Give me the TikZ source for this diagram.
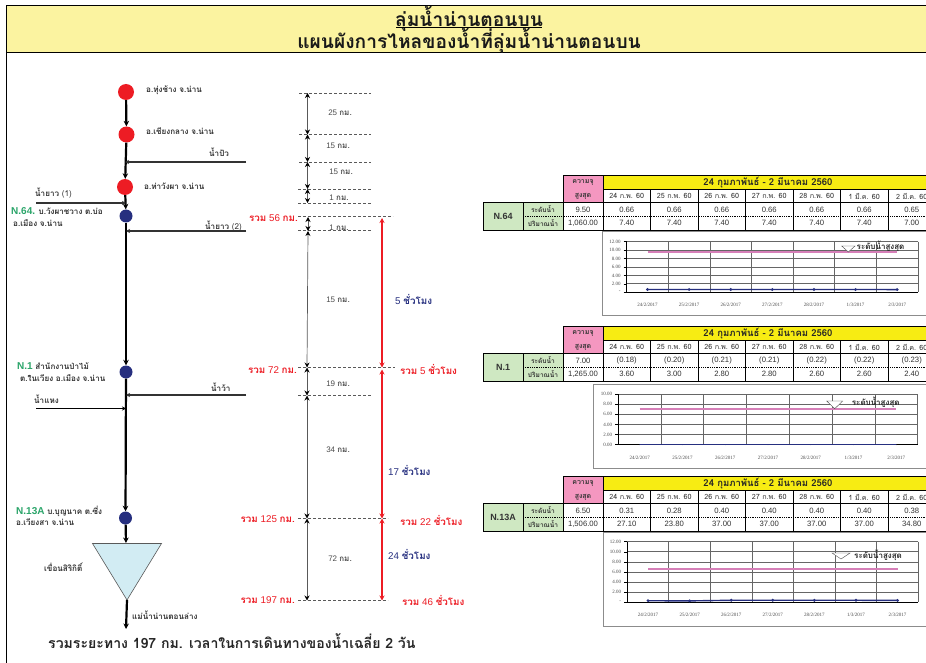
\documentclass[tikz,border=0pt]{standalone}
\usepackage{fontspec}
\usetikzlibrary{arrows.meta}
\setmainfont{Liberation Sans}
\newfontfamily\thaiR[Script=Thai]{Loma}
\newfontfamily\thaiB[Script=Thai]{Loma Bold}
\newfontfamily\tickfont{Liberation Serif}
\newcommand{\TB}[1]{{\thaiB #1}}
\newcommand{\TR}[1]{{\thaiR #1}}
\definecolor{band}{HTML}{FBF3A0}
\definecolor{hdryellow}{HTML}{F7EC13}
\definecolor{hdrpink}{HTML}{F497C0}
\definecolor{stgreen}{HTML}{CFE8C2}
\definecolor{labgreen}{HTML}{2BA56A}
\definecolor{rivred}{HTML}{ED1C24}
\definecolor{rivblue}{HTML}{262F7F}
\definecolor{dampale}{HTML}{D2ECF3}
\definecolor{linepink}{HTML}{D67FB8}
\tikzset{
  riv/.style={line width=2.2pt,-{Stealth[length=5.5pt,width=5.5pt]}},
  trib/.style={line width=1.3pt,draw=black!80,-{Stealth[length=4pt,width=4pt]}},
  dimline/.style={line width=.7pt,draw=black!65,{Stealth[length=5pt,width=5pt,black]}-{Stealth[length=5pt,width=5pt,black]}},
  redline/.style={line width=1.1pt,draw=rivred,{Stealth[length=5pt,width=5pt]}-{Stealth[length=5pt,width=5pt]}},
  level/.style={dash pattern=on 3pt off 2pt,line width=.4pt,draw=black!65},
  redball/.style={circle,fill=rivred,inner sep=0pt,minimum size=16pt},
  blueball/.style={circle,fill=rivblue,inner sep=0pt,minimum size=13pt},
  lab/.style={anchor=west,inner sep=0pt,font=\thaiB\fontsize{8.1}{9}\selectfont,text=black!80},
  km/.style={anchor=center,inner sep=0pt,font=\fontsize{8}{9}\selectfont,text=black!70},
  total/.style={inner sep=0pt,font=\fontsize{9.8}{11}\selectfont,text=rivred},
  hours/.style={anchor=west,inner sep=0pt,font=\fontsize{9.8}{11}\selectfont,text=rivblue},
  cell/.style={inner sep=0pt,font=\fontsize{7.7}{9}\selectfont,text=black!80},
  tick/.style={inner sep=0pt,font=\tickfont\fontsize{5}{6}\selectfont,text=black!70},
}
\newcommand{\rivtable}[7]{%
 \begin{scope}[shift={(0,#2)}]
  \fill[hdrpink] (563,0) rectangle (603,27);
  \fill[hdryellow] (603,0) rectangle (940,13.4);
  \fill[stgreen] (483,27) rectangle (563,54.3);
  \fill[stgreen!30] (483,54.3) rectangle (563,55.5);
  \draw[line width=.8pt] (563,0) -- (940,0) (603,13.4) -- (940,13.4) (483,27) -- (940,27) (483,54.3) -- (940,54.3);
  \draw[line width=.8pt] (483,27) -- (483,54.3) (523,27) -- (523,54.3) (563,0) -- (563,54.3) (603,0) -- (603,54.3);
  \draw[line width=.8pt,densely dotted] (523,40.5) -- (940,40.5);
  \foreach \i in {1,...,6} {\draw[line width=.7pt] ({603+47.5*\i},13.4) -- ({603+47.5*\i},54.3);}
  \node[inner sep=0pt,font=\thaiB\fontsize{7}{8}\selectfont,text=black!80] (#1-mxa) at (583,7) {ความจุ};
  \node[inner sep=0pt,font=\thaiB\fontsize{7}{8}\selectfont,text=black!80] (#1-mxb) at (583,20.5) {สูงสุด};
  \node[inner sep=0pt,font=\thaiB\fontsize{9.5}{11}\selectfont,text=black!85] (#1-hdr) at (768,7) {24 กุมภาพันธ์ - 2 มีนาคม 2560};
  \node[inner sep=0pt,font=\bfseries\fontsize{9}{11}\selectfont,text=black!80] (#1-st) at (503,40.5) {#3};
  \node[inner sep=0pt,font=\thaiB\fontsize{6.6}{8}\selectfont,text=black!80] (#1-lv) at (543,33.8) {ระดับน้ำ};
  \node[inner sep=0pt,font=\thaiB\fontsize{6.6}{8}\selectfont,text=black!80] (#1-qt) at (543,47.5) {ปริมาณน้ำ};
  \node[cell] (#1-mx) at (583,33.8) {#4};
  \node[cell] (#1-qm) at (583,47.5) {#5};
  \foreach \d [count=\i] in {24 ก.พ. 60,25 ก.พ. 60,26 ก.พ. 60,27 ก.พ. 60,28 ก.พ. 60,1 มี.ค. 60,2 มี.ค. 60}
   {\node[cell,font=\thaiR\fontsize{7.2}{9}\selectfont] (#1-d\i) at ({603+47.5*(\i-.5)},20.7) {\d};}
  \foreach \v [count=\i] in {#6}
   {\node[cell] (#1-l\i) at ({603+47.5*(\i-.5)},33.8) {\v};}
  \foreach \v [count=\i] in {#7}
   {\node[cell] (#1-q\i) at ({603+47.5*(\i-.5)},47.5) {\v};}
 \end{scope}}
% id, frameL, frameT, frameB, plotL, plotR, plotT, plotB, ymax
\newcommand{\rivchart}[9]{%
 \def\pL{#5}\def\pR{#6}\def\pT{#7}\def\pB{#8}\def\yM{#9}\def\cid{#1}%
 \draw[line width=.7pt,draw=black!45] (930,#3) -- (#2,#3) -- (#2,#4) -- (930,#4);
 \foreach \k in {0,2,4,6,8,10,12} {
  \ifdim \k pt>#9pt\else
   \draw[line width=.8pt,draw=black!60] (#5,{#8-\k/#9*(#8-#7)}) -- (#6,{#8-\k/#9*(#8-#7)});
   \node[tick,anchor=east] (#1-y\k) at ({#5-6},{#8-\k/#9*(#8-#7)}) {\ifnum\k=0 \ifnum#9=10 0.00\else -\fi\else\k.00\fi};
   \draw[line width=.6pt] ({#5-3},{#8-\k/#9*(#8-#7)}) -- (#5,{#8-\k/#9*(#8-#7)});
  \fi}
 \foreach \i in {0,...,7} {\draw[line width=.8pt,draw=black!60] ({#5+(#6-#5)*\i/7},#7) -- ({#5+(#6-#5)*\i/7},#8);}
 \draw[line width=1pt] (#5,#7) -- (#5,#8) -- (#6,#8);
 \foreach \d [count=\i] in {24/2/2017,25/2/2017,26/2/2017,27/2/2017,28/2/2017,1/3/2017,2/3/2017}
  {\node[tick] (#1-x\i) at ({#5+(#6-#5)*(\i-.5)/7},{#8+12.7}) {\d};}
}
\newcommand{\rivseries}[3]{% pink level, values, marksize
 \draw[line width=2pt,draw=linepink] ({\pL+(\pR-\pL)*.5/7},{\pB-#1/\yM*(\pB-\pT)}) -- ({\pL+(\pR-\pL)*6.5/7},{\pB-#1/\yM*(\pB-\pT)});
 \foreach \v [count=\i] in {#2} {
  \coordinate (\cid-p\i) at ({\pL+(\pR-\pL)*(\i-.5)/7},{\pB-\v/\yM*(\pB-\pT)});
  \fill[rivblue] (\cid-p\i) circle (#3);}
 \draw[line width=1.4pt,draw=rivblue] (\cid-p1) -- (\cid-p2) -- (\cid-p3) -- (\cid-p4) -- (\cid-p5) -- (\cid-p6) -- (\cid-p7);
}
\newcommand{\rivlegend}[6]{% id, triL, triR, triT, triB, text position
 \fill[white] (#2,#4) -- (#3,#4) -- ({(#2+#3)/2},#5) -- cycle;
 \draw[line width=.4pt,draw=black!70] (#2,#4) -- (#3,#4) -- ({(#2+#3)/2},#5) -- cycle;
 \node[inner sep=0pt,anchor=west,font=\thaiB\fontsize{8}{9}\selectfont,text=black!85] (#1-leg) at #6 {ระดับน้ำสูงสุด};
}
\begin{document}
\begin{tikzpicture}[x=1pt,y=-1pt]
\useasboundingbox (0,0) rectangle (926,663);
\fill[white] (0,0) rectangle (926,663);
% page frame and title band
\fill[band] (6,5.5) rectangle (926,52);
\draw[line width=.9pt] (930,5.5) -- (6,5.5) -- (6,663);
\draw[line width=.7pt] (6,52) -- (930,52);
\node[inner sep=0pt,font=\thaiB\fontsize{19.2}{22}\selectfont,text=black!90] (title1) at (469,19) {ลุ่มน้ำน่านตอนบน};
\draw[line width=1pt] (396,27.5) -- (542,27.5);
\node[inner sep=0pt,font=\thaiB\fontsize{19.2}{22}\selectfont,text=black!90] (title2) at (469,41) {แผนผังการไหลของน้ำที่ลุ่มน้ำน่านตอนบน};
% river nodes
\node[redball] (a1) at (126,92) {};
\node[redball] (a2) at (126.5,134.5) {};
\node[redball] (a3) at (125,187) {};
\node[blueball] (n64) at (126,216) {};
\node[blueball] (n1) at (126,372) {};
\node[blueball] (n13) at (125.5,518) {};
\coordinate (damTop) at (126,543);
\coordinate (damTip) at (127,600);
\coordinate (lowEnd) at (126,629);
\draw[line width=.6pt,draw=black!65,fill=dampale] (92.5,543.5) -- (161.5,543.5) -- (damTip) -- cycle;
\draw[riv] (a1) -- (a2);
\draw[riv] (a2) -- (a3);
\draw[riv] (a3) -- (n64);
\draw[riv] (n64) -- (n1);
\draw[riv] (n1) -- (n13);
\draw[riv] (n13) -- (damTop);
\draw[riv] (damTip) -- (lowEnd);
% tributaries
\coordinate (t1s) at (246,162); \coordinate (t1e) at (125,162);
\coordinate (t2s) at (36,203); \coordinate (t2e) at (126,203);
\coordinate (t3s) at (246,231); \coordinate (t3e) at (126,231);
\coordinate (t4s) at (246,395); \coordinate (t4e) at (126,395);
\coordinate (t5s) at (36,408.5); \coordinate (t5e) at (126,408.5);
\draw[trib] (t1s) -- (t1e);
\draw[trib] (t2s) -- (t2e);
\draw[trib] (t3s) -- (t3e);
\draw[trib] (t4s) -- (t4e);
\draw[trib,line width=.9pt,draw=black] (t5s) -- (t5e);
% location labels
\node[lab] (l1) at (146,90.5) {อ.ทุ่งช้าง จ.น่าน};
\node[lab] (l2) at (146,131) {อ.เชียงกลาง จ.น่าน};
\node[lab] (l3) at (144,186) {อ.ท่าวังผา จ.น่าน};
\node[lab] (tl1) at (209,152) {น้ำปัว};
\node[lab] (tl2) at (35,193) {น้ำยาว \TR{(1)}};
\node[lab] (tl3) at (205,226) {น้ำยาว \TR{(2)}};
\node[lab] (tl4) at (211,387) {น้ำว้า};
\node[lab] (tl5) at (34,399) {น้ำแหง};
\node[lab] (s1a) at (11,211) {{\fontspec{Liberation Sans}\color{labgreen}\bfseries\fontsize{10}{12}\selectfont N.64.} บ.วังผาชวาง ต.บ่อ};
\node[lab] (s1b) at (13,223) {อ.เมือง จ.น่าน};
\node[lab] (s2a) at (17,366) {{\fontspec{Liberation Sans}\color{labgreen}\bfseries\fontsize{10}{12}\selectfont N.1} สำนักงานป่าไม้};
\node[lab] (s2b) at (20,378) {ต.ในเวียง อ.เมือง จ.น่าน};
\node[lab] (s3a) at (16,511) {{\fontspec{Liberation Sans}\color{labgreen}\bfseries\fontsize{10}{12}\selectfont N.13A} บ.บุญนาค ต.ซึ่ง};
\node[lab] (s3b) at (16,522) {อ.เวียงสา จ.น่าน};
\node[lab] (dam) at (44,567) {เขื่อนสิริกิติ์};
\node[lab] (low) at (132,615) {แม่น้ำน่านตอนล่าง};
% distance levels
\foreach \yy/\xa/\xb in {93/299/371,134.5/299/371,162/299/371,189/298/371,203/298/371,216.5/298/393,230.5/298/371,367.5/298/395,395.5/298/371,518.5/298/388,600.5/298/388}
  {\draw[level] (\xa,\yy) -- (\xb,\yy);}
\coordinate (d0) at (307.5,93); \coordinate (d1) at (307.5,134.5);
\coordinate (d2) at (307.5,162); \coordinate (d3) at (307.5,189);
\coordinate (d4) at (307.5,203); \coordinate (d5) at (308,217);
\coordinate (d6) at (308,231); \coordinate (d7) at (307,367.5);
\coordinate (d8) at (307,395.5); \coordinate (d9) at (307,518.5);
\coordinate (d10) at (307,600.5);
\foreach \a/\b in {d0/d1,d1/d2,d2/d3,d3/d4,d5/d6,d6/d7,d7/d8,d8/d9,d9/d10}
  {\draw[dimline] (\a) -- (\b);}
\coordinate (r0) at (382,218); \coordinate (r1) at (382,367.5);
\coordinate (r1b) at (382,369.5); \coordinate (r2) at (382,518.5);
\coordinate (r3) at (382,600.5);
\draw[redline] (r0) -- (r1);
\draw[redline] (r1b) -- (r2);
\draw[redline] (r2) -- (r3);
% distance labels
\node[km] (k1) at (340,113) {25 \TB{กม.}};
\node[km] (k2) at (338,145.5) {15 \TB{กม.}};
\node[km] (k3) at (341,172) {15 \TB{กม.}};
\node[km] (k4) at (339,198) {1 \TB{กม.}};
\node[km] (k5) at (339,228) {1 \TB{กม.}};
\node[km] (k6) at (338,300) {15 \TB{กม.}};
\node[km] (k7) at (338,384) {19 \TB{กม.}};
\node[km] (k8) at (338,450) {34 \TB{กม.}};
\node[km] (k9) at (340,559) {72 \TB{กม.}};
\node[total,anchor=east] (c1) at (298,218.5) {\TB{รวม} 56 \TB{กม.}};
\node[total,anchor=east] (c2) at (297,370) {\TB{รวม} 72 \TB{กม.}};
\node[total,anchor=east] (c3) at (295,519) {\TB{รวม} 125 \TB{กม.}};
\node[total,anchor=east] (c4) at (295,600.5) {\TB{รวม} 197 \TB{กม.}};
\node[total,anchor=west] (h1) at (400,370) {\TB{รวม} 5 \TB{ชั่วโมง}};
\node[total,anchor=west] (h2) at (400,520.5) {\TB{รวม} 22 \TB{ชั่วโมง}};
\node[total,anchor=west] (h3) at (402,600.5) {\TB{รวม} 46 \TB{ชั่วโมง}};
\node[hours] (b1) at (395,300) {5 \TB{ชั่วโมง}};
\node[hours] (b2) at (388,470.5) {17 \TB{ชั่วโมง}};
\node[hours] (b3) at (388,554.5) {24 \TB{ชั่วโมง}};
\node[inner sep=0pt,anchor=west,font=\fontsize{14.1}{17}\selectfont\thaiB,text=black!85] (sum) at (48,641) {รวมระยะทาง 197 กม. เวลาในการเดินทางของน้ำเฉลี่ย 2 วัน};
% tables
\rivtable{ta}{175.7}{N.64}{9.50}{1,060.00}{0.66,0.66,0.66,0.66,0.66,0.66,0.65}{7.40,7.40,7.40,7.40,7.40,7.40,7.00}
\rivtable{tb}{326.7}{N.1}{7.00}{1,265.00}{(0.18),(0.20),(0.21),(0.21),(0.22),(0.22),(0.23)}{3.60,3.00,2.80,2.80,2.60,2.60,2.40}
\rivtable{tc}{476.7}{N.13A}{6.50}{1,506.00}{0.31,0.28,0.40,0.40,0.40,0.40,0.38}{27.10,23.80,37.00,37.00,37.00,37.00,34.80}
% charts
\rivchart{ca}{602.5}{231}{315}{626.7}{918}{241.7}{292.3}{12}
\rivseries{9.5}{0.66,0.66,0.66,0.66,0.66,0.66,0.65}{1.6pt}
\rivlegend{ca}{841.7}{855}{246}{252}{(856.5,246)}
\rivchart{cb}{593.5}{384}{468.3}{618.3}{917.7}{394}{444.7}{10}
\rivseries{7}{0,0,0,0,0,0,0}{0.4pt}
\rivlegend{cb}{826.7}{842.7}{401}{408.7}{(851.7,402.3)}
\rivchart{cc}{603.5}{532}{626}{627.3}{918.3}{541.7}{602.3}{12}
\rivseries{6.5}{0.31,0.28,0.40,0.40,0.40,0.40,0.38}{1.6pt}
\rivlegend{cc}{832}{850}{553}{559}{(854,555.3)}
\end{tikzpicture}
\end{document}
